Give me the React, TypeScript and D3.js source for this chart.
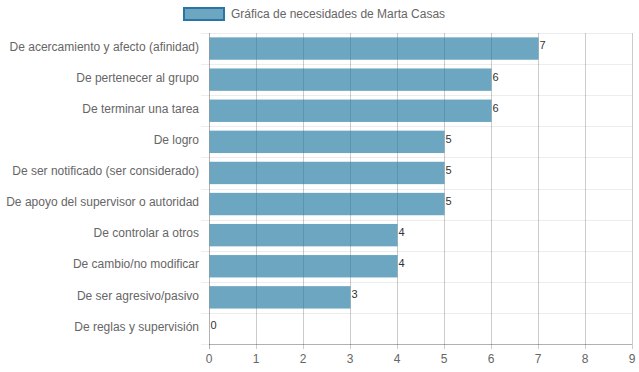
import React, { useRef, useEffect } from 'react';
import * as d3 from 'd3';

const categories = [
  'De acercamiento y afecto (afinidad)',
  'De pertenecer al grupo',
  'De terminar una tarea',
  'De logro',
  'De ser notificado (ser considerado)',
  'De apoyo del supervisor o autoridad',
  'De controlar a otros',
  'De cambio/no modificar',
  'De ser agresivo/pasivo',
  'De reglas y supervisión',
];
const values = [7, 6, 6, 5, 5, 5, 4, 4, 3, 0];
const xTicks = [0, 1, 2, 3, 4, 5, 6, 7, 8, 9];
const seriesLabel = 'Gráfica de necesidades de Marta Casas';

const width = 639;
const height = 372;
const margin = { top: 33, right: 7, bottom: 28, left: 209 };
const font = 'Helvetica, Arial, "Liberation Sans", sans-serif';

const App: React.FC = () => {
  const svgRef = useRef<SVGSVGElement | null>(null);

  useEffect(() => {
    if (!svgRef.current) return;
    const svg = d3.select(svgRef.current);
    svg.selectAll('*').remove();

    const innerWidth = width - margin.left - margin.right;
    const innerHeight = height - margin.top - margin.bottom;

    const x = d3.scaleLinear().domain([0, 9]).range([0, innerWidth]);
    const y = d3.scaleBand().domain(categories).range([0, innerHeight]).paddingInner(0).paddingOuter(0);

    const g = svg.append('g').attr('transform', `translate(${margin.left},${margin.top})`);

    // horizontal grid (category boundaries)
    const bounds = d3.range(categories.length + 1).map(i => i * y.step());
    g.selectAll('line.hgrid')
      .data(bounds)
      .join('line')
      .attr('x1', -8)
      .attr('x2', innerWidth)
      .attr('y1', d => Math.round(d) + 0.5)
      .attr('y2', d => Math.round(d) + 0.5)
      .attr('stroke', 'rgba(0,0,0,0.07)')
      .attr('stroke-width', 1);

    // vertical grid
    g.selectAll('line.vgrid')
      .data(xTicks)
      .join('line')
      .attr('x1', d => Math.round(x(d)) + 0.5)
      .attr('x2', d => Math.round(x(d)) + 0.5)
      .attr('y1', 0)
      .attr('y2', innerHeight + 5)
      .attr('stroke', d => (d === 0 ? 'rgba(0,0,0,0.3)' : 'rgba(0,0,0,0.2)'))
      .attr('stroke-width', 1);

    // bottom axis line
    g.append('line')
      .attr('x1', 0)
      .attr('x2', innerWidth)
      .attr('y1', Math.round(innerHeight) + 0.5)
      .attr('y2', Math.round(innerHeight) + 0.5)
      .attr('stroke', 'rgba(0,0,0,0.25)');

    // bars
    const barH = y.bandwidth() * 0.72;
    g.selectAll('rect.bar')
      .data(values)
      .join('rect')
      .attr('x', x(0) + 0.5)
      .attr('y', (d, i) => y(categories[i])! + (y.bandwidth() - barH) / 2)
      .attr('width', d => Math.max(0, x(d) - x(0)))
      .attr('height', barH)
      .attr('fill', 'rgba(31,119,160,0.65)');

    // value labels
    g.selectAll('text.val')
      .data(values)
      .join('text')
      .attr('x', d => x(d) + 1.5)
      .attr('y', (d, i) => y(categories[i])! + y.bandwidth() / 2 - 2)
      .attr('dominant-baseline', 'middle')
      .attr('font-family', font)
      .attr('font-size', 11)
      .attr('fill', '#333')
      .text(d => d);

    // y labels
    g.selectAll('text.cat')
      .data(categories)
      .join('text')
      .attr('x', -10)
      .attr('y', d => y(d)! + y.bandwidth() / 2 - 1)
      .attr('text-anchor', 'end')
      .attr('dominant-baseline', 'middle')
      .attr('font-family', font)
      .attr('font-size', 12)
      .attr('fill', '#666')
      .text(d => d);

    // x tick labels
    g.selectAll('text.tick')
      .data(xTicks)
      .join('text')
      .attr('x', d => x(d))
      .attr('y', innerHeight + 15.5)
      .attr('text-anchor', 'middle')
      .attr('dominant-baseline', 'middle')
      .attr('font-family', font)
      .attr('font-size', 12)
      .attr('fill', '#666')
      .text(d => d);

    // legend
    const legend = svg.append('g').attr('transform', 'translate(184,8)');
    legend.append('rect')
      .attr('width', 40)
      .attr('height', 12)
      .attr('fill', 'rgba(31,119,160,0.65)')
      .attr('stroke', '#2a75a3')
      .attr('stroke-width', 2);
    legend.append('text')
      .attr('x', 47)
      .attr('y', 7)
      .attr('dominant-baseline', 'middle')
      .attr('font-family', font)
      .attr('font-size', 12)
      .attr('fill', '#666')
      .text(seriesLabel);
  }, []);

  return (
    <svg
      ref={svgRef}
      width={width}
      height={height}
      style={{ position: 'absolute', left: 0, top: 0, background: '#fff' }}
    />
  );
};

export default App;
